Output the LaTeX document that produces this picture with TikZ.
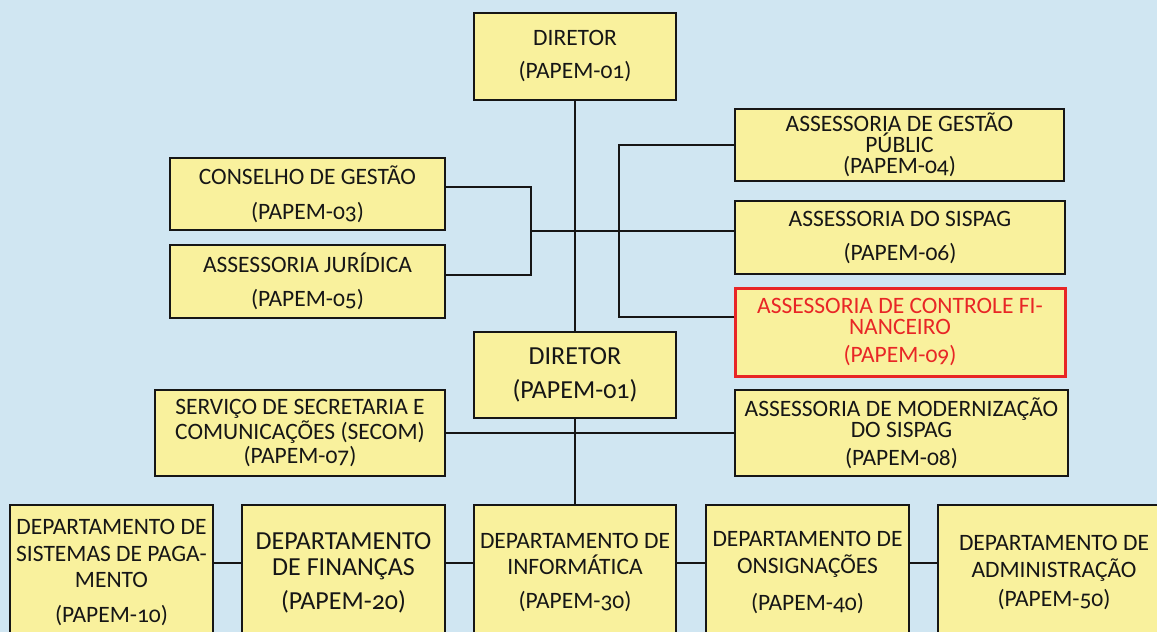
\documentclass[tikz,border=0pt]{standalone}
\usepackage{fontspec}
\setmainfont{Carlito}[Numbers=OldStyle]
\definecolor{skyback}{RGB}{208,230,242}
\definecolor{boxfill}{RGB}{249,241,157}
\definecolor{alertred}{RGB}{232,38,38}
\definecolor{inkline}{RGB}{22,22,22}

\begin{document}
\begin{tikzpicture}[x=1pt,y=-1pt,line width=2pt,draw=inkline,
  unit/.style={draw=inkline,fill=boxfill,align=center,inner sep=0pt,text=inkline,
    font=\fontsize{23.5}{21}\selectfont},
  big unit/.style={unit,font=\fontsize{26}{26}\selectfont},
  alert unit/.style={unit,draw=alertred,text=alertred,line width=3pt}]

  \useasboundingbox (0,0) rectangle (1157,632);
  \clip (0,0) rectangle (1157,632);
  \fill[skyback] (0,0) rectangle (1157,632);

  % upper level
  \node[unit,minimum width=202pt,minimum height=87pt] (dir1) at (575,56.5)
    {DIRETOR\\[12pt](PAPEM-01)};
  \node[unit,minimum width=275pt,minimum height=72pt] (cons) at (307.5,194)
    {CONSELHO DE GESTÃO\\[14pt](PAPEM-03)};
  \node[unit,minimum width=275pt,minimum height=73pt] (jur) at (307.5,281.5)
    {ASSESSORIA JURÍDICA\\[13pt](PAPEM-05)};
  \node[unit,minimum width=329pt,minimum height=72pt] (gest) at (899.5,145)
    {ASSESSORIA DE GESTÃO\\PÚBLIC\\(PAPEM-04)};
  \node[unit,minimum width=330pt,minimum height=73pt] (sis) at (900,237.5)
    {ASSESSORIA DO SISPAG\\[13pt](PAPEM-06)};
  \node[alert unit,minimum width=330pt,minimum height=88pt] (ctrl) at (900,332)
    {ASSESSORIA DE CONTROLE FI-\\NANCEIRO\\[7pt](PAPEM-09)};

  % middle level
  \node[big unit,minimum width=202pt,minimum height=86pt] (dir2) at (575,375)
    {DIRETOR\\[8pt](PAPEM-01)};
  \node[unit,minimum width=290pt,minimum height=86pt] (secom) at (300,433)
    {SERVIÇO DE SECRETARIA E\\[2pt]COMUNICAÇÕES (SECOM)\\[2pt](PAPEM-07)};
  \node[unit,minimum width=333pt,minimum height=86pt] (mod) at (901.5,433)
    {ASSESSORIA DE MODERNIZAÇÃO\\DO SISPAG\\[7pt](PAPEM-08)};

  % departments
  \node[unit,minimum width=203pt,minimum height=135pt] (sp) at (111.5,572.5)
    {DEPARTAMENTO DE\\[6pt]SISTEMAS DE PAGA-\\[5pt]MENTO\\[14pt](PAPEM-10)};
  \node[big unit,minimum width=203pt,minimum height=135pt] (fin) at (343.5,572.5)
    {DEPARTAMENTO\\DE FINANÇAS\\[8pt](PAPEM-20)};
  \node[unit,minimum width=202pt,minimum height=135pt] (inf) at (575,572.5)
    {DEPARTAMENTO DE\\[5pt]INFORMÁTICA\\[13pt](PAPEM-30)};
  \node[unit,minimum width=203pt,minimum height=135pt] (cns) at (807.5,572.5)
    {DEPARTAMENTO DE\\[6pt]ONSIGNAÇÕES\\[14pt](PAPEM-40)};
  \node[unit,minimum width=232pt,minimum height=135pt] (adm) at (1054,572.5)
    {DEPARTAMENTO DE\\[6pt]ADMINISTRAÇÃO\\[6pt](PAPEM-50)};

  \coordinate (jl) at (531,231);
  \coordinate (jr) at (619,231);

  % connectors
  \draw (dir1) -- (dir2);
  \draw (dir2) -- (inf);
  \draw ([yshift=7pt]cons.east) -| (jl);
  \draw ([yshift=7pt]jur.east) -| (jl);
  \draw (jl) -- (jl -| sis.west);
  \draw (gest.west) -| (jr);
  \draw ([yshift=15pt]ctrl.west) -| (jr);
  \draw (secom) -- (mod);
  \foreach \a/\b in {sp/fin,fin/inf,inf/cns,cns/adm}
    \draw ([yshift=9.5pt]\a.east) -- ([yshift=9.5pt]\b.west);
\end{tikzpicture}
\end{document}
